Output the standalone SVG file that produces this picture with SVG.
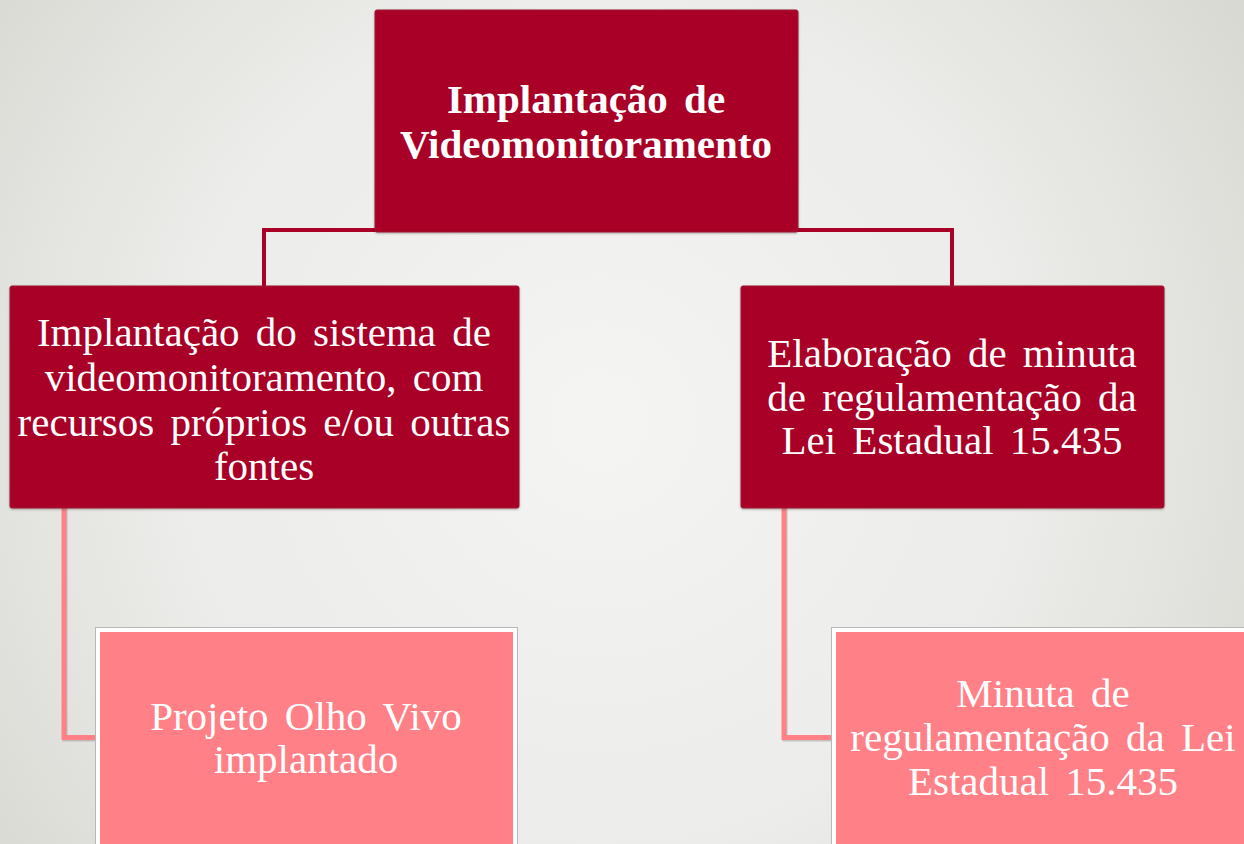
<svg xmlns="http://www.w3.org/2000/svg" width="1244" height="844" viewBox="0 0 1244 844">
  <defs>
    <radialGradient id="bg" cx="600" cy="420" r="780" gradientUnits="userSpaceOnUse">
      <stop offset="0" stop-color="#f4f4f2"/>
      <stop offset="0.55" stop-color="#ececea"/>
      <stop offset="1" stop-color="#d8d8d2"/>
    </radialGradient>
    <filter id="sh" x="-5%" y="-5%" width="110%" height="110%">
      <feDropShadow dx="0" dy="1" stdDeviation="1" flood-color="#000" flood-opacity="0.3"/>
    </filter>
  </defs>
  <style>
    .dark { fill: #a80026; stroke: #9a1a30; stroke-width: 1; }
    .pink { fill: #ff8086; stroke: #ffffff; stroke-width: 4; }
    .pinkout { fill: none; stroke: #b8b8b8; stroke-width: 1; }
    .t { font-family: "Liberation Serif", "Times New Roman", serif; fill: #ffffff; text-anchor: middle; font-size: 41px; word-spacing: 6px; }
    .b { font-weight: bold; }
    .c1 { fill: none; stroke: #a80026; stroke-width: 4; }
    .c2 { fill: none; stroke: #ff8086; stroke-width: 5; }
    .c2s { fill: none; stroke: #999999; stroke-width: 5; opacity: 0.5; }
  </style>
  <rect x="0" y="0" width="1244" height="844" fill="url(#bg)"/>

  <g id="connectors">
    <path class="c1" d="M264,288 V230 H952 V288"/>
    <path class="c2s" d="M65,508 V739 H96"/>
    <path class="c2" d="M64,508 V737.5 H96"/>
    <path class="c2s" d="M785,508 V739 H833"/>
    <path class="c2" d="M784,508 V737.5 H833"/>
  </g>

  <g id="node-top">
    <rect class="dark" x="375" y="10" width="423" height="222" rx="2" filter="url(#sh)"/>
    <text class="t b" x="586" y="113">Implantação de</text>
    <text class="t b" x="586" y="158">Videomonitoramento</text>
  </g>

  <g id="node-left">
    <rect class="dark" x="10" y="286" width="509" height="222" rx="2" filter="url(#sh)"/>
    <text class="t" x="264" y="346">Implantação do sistema de</text>
    <text class="t" x="264" y="391">videomonitoramento, com</text>
    <text class="t" x="264" y="436">recursos próprios e/ou outras</text>
    <text class="t" x="264" y="480">fontes</text>
  </g>

  <g id="node-right">
    <rect class="dark" x="741" y="286" width="423" height="222" rx="2" filter="url(#sh)"/>
    <text class="t" x="952" y="367">Elaboração de minuta</text>
    <text class="t" x="952" y="411">de regulamentação da</text>
    <text class="t" x="952" y="454">Lei Estadual 15.435</text>
  </g>

  <g id="node-left-child">
    <rect class="pinkout" x="95.5" y="627.5" width="422" height="230"/>
    <rect class="pink" x="98" y="630" width="417" height="230"/>
    <text class="t" x="306" y="730">Projeto Olho Vivo</text>
    <text class="t" x="306" y="773">implantado</text>
  </g>

  <g id="node-right-child">
    <rect class="pinkout" x="831.5" y="627.5" width="422" height="230"/>
    <rect class="pink" x="834" y="630" width="417" height="230"/>
    <text class="t" x="1043" y="707">Minuta de</text>
    <text class="t" x="1043" y="751">regulamentação da Lei</text>
    <text class="t" x="1043" y="795">Estadual 15.435</text>
  </g>
</svg>
